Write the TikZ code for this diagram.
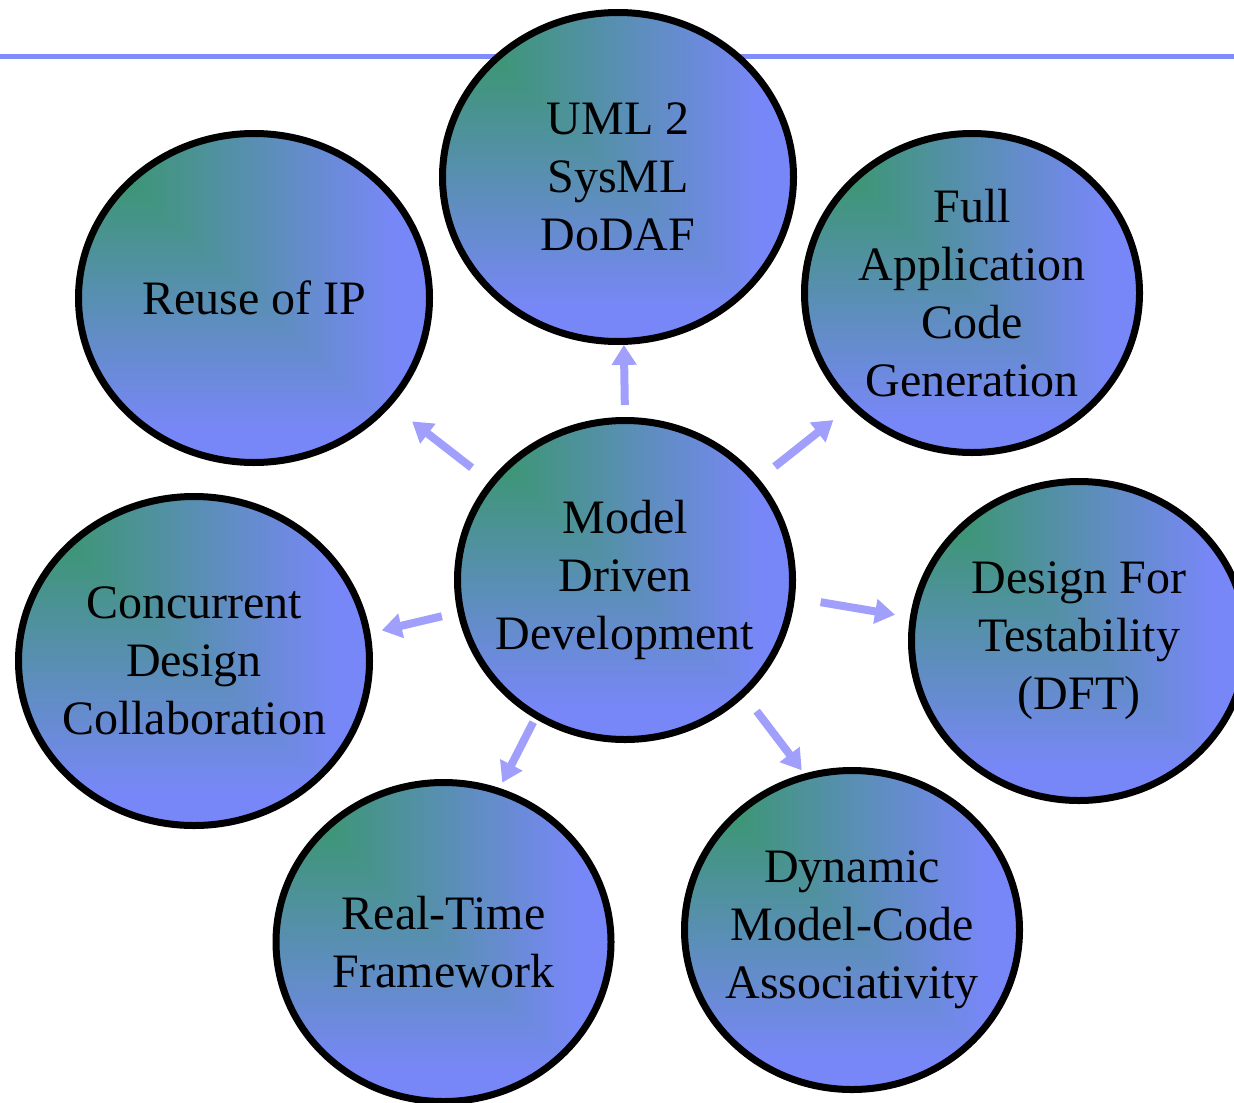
\documentclass[tikz,border=0pt]{standalone}
\usepackage{fontspec}
\setmainfont{Liberation Serif}
\usepackage{tikz}
\usetikzlibrary{shapes.geometric,arrows.meta}

% green in the top left corner, blue towards the bottom right
\pgfdeclarefunctionalshading{cornerShade}{\pgfpoint{-50bp}{-50bp}}{\pgfpoint{50bp}{50bp}}{}{
  25 exch sub 50 div
  exch 25 add 50 div
  2 copy lt {exch} if pop
  0.12 sub 0.78 div
  dup 0 lt {pop 0} if
  dup 1 gt {pop 1} if
  dup dup
  0.24 mul 0.23 add
  3 1 roll
  -0.06 mul 0.59 add
  exch
  0.53 mul 0.44 add
}

\tikzset{
  bubble/.style = {ellipse, draw = black, line width = 3.5pt, shading = cornerShade,
    minimum width = 167.5pt, minimum height = 159.5pt, inner sep = -12pt,
    align = center, font = \fontsize{24}{29}\selectfont},
  bigBubble/.style = {bubble, minimum width = 175.5pt, minimum height = 164.5pt},
  pointer/.style = {draw = arrowColor, line width = 4pt, -{Triangle[width = 12pt, length = 10pt]}}
}

\begin{document}
\begin{tikzpicture}[x = 0.5pt, y = -0.5pt]
            % \draw [help lines,step = 100] (0,0) grid (1234,1102);
            \useasboundingbox (0,0) rectangle (1234,1102);

            \definecolor{lineColor}{RGB}{128,140,249}
            \definecolor{arrowColor}{RGB}{160,160,252}

            \draw [line width = 2.5pt, lineColor] (0,57) -- (1234,57);

            \node [bubble] (modelNode) at (625,580) {Model\\Driven\\Development};

            \node [bigBubble] (umlNode) at (618,177) {UML 2\\SysML\\DoDAF};
            \node [bigBubble] (reuseNode) at (254,298) {Reuse of IP};
            \node [bubble] (fullNode) at (972,293) {Full\\Application\\Code\\Generation};
            \node [bigBubble] (concNode) at (194,661) {Concurrent\\Design\\Collaboration};
            \node [bubble] (dftNode) at (1079,641) {Design For\\Testability\\(DFT)};
            \node [bubble] (rtNode) at (443.5,942) {Real-Time\\Framework};
            \node [bubble] (dynNode) at (852,930) {Dynamic\\Model-Code\\Associativity};

            \draw [pointer, shorten <= 6pt] (modelNode.90) -- (umlNode.272);
            \draw [pointer, shorten <= 11pt, shorten >= 13pt] (modelNode.144) -- (reuseNode.322);
            \draw [pointer, shorten <= 10pt, shorten >= 10.5pt] (modelNode.37) -- (fullNode.223);
            \draw [pointer, shorten <= 8pt, shorten >= 5.75pt] (modelNode.191) -- (concNode.9);
            \draw [pointer, shorten <= 13pt, shorten >= 7.5pt] (modelNode.354) -- (dftNode.172);
            \draw [pointer, shorten <= 2pt, shorten >= 3pt] (modelNode.237) -- (rtNode.70);
            \draw [pointer, shorten <= 9.5pt, shorten >= 2pt] (modelNode.316) -- (dynNode.107);

\end{tikzpicture}
\end{document}
